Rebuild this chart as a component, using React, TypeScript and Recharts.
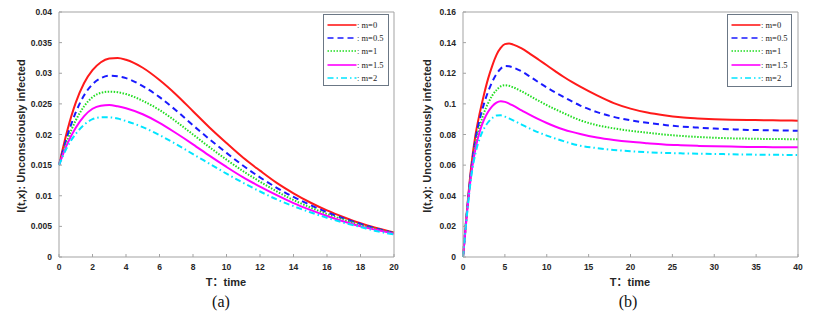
import React from "react";
import { LineChart, Line, XAxis, YAxis, Legend } from "recharts";

// time grids
const tLeft = [0, 0.5, 1, 1.5, 2, 2.5, 3, 3.5, 4, 5, 6, 7, 8, 9, 10, 11, 12, 13, 14, 15, 16, 17, 18, 19, 20];
const tRight = [
  0, 0.5, 1, 1.5, 2, 2.5, 3, 3.5, 4, 4.5, 5, 5.5, 6, 7, 8, 9, 10, 11, 12, 13, 14, 16, 18, 20, 22, 24, 26, 28, 30,
  32, 34, 36, 38, 40,
];

// panel (a)
const aM0 = [0.015, 0.0207, 0.0252, 0.0284, 0.0305, 0.0318, 0.0324, 0.0325, 0.0322, 0.0309, 0.0289, 0.0265, 0.0238, 0.0211, 0.0186, 0.0162, 0.0141, 0.0121, 0.0104, 0.0089, 0.0076, 0.0065, 0.0055, 0.0047, 0.004];
const aM05 = [0.015, 0.0198, 0.0236, 0.0264, 0.0282, 0.0292, 0.0296, 0.0295, 0.0292, 0.0279, 0.0261, 0.0239, 0.0215, 0.0192, 0.017, 0.0149, 0.013, 0.0113, 0.0098, 0.0085, 0.0073, 0.0063, 0.0054, 0.0046, 0.0039];
const aM1 = [0.015, 0.0191, 0.0223, 0.0246, 0.0261, 0.0268, 0.027, 0.0269, 0.0266, 0.0255, 0.024, 0.0221, 0.02, 0.0179, 0.0159, 0.014, 0.0123, 0.0107, 0.0093, 0.0081, 0.007, 0.0061, 0.0052, 0.0045, 0.0039];
const aM15 = [0.015, 0.0185, 0.0211, 0.023, 0.0242, 0.0247, 0.0248, 0.0246, 0.0243, 0.0233, 0.0219, 0.0202, 0.0184, 0.0165, 0.0147, 0.013, 0.0115, 0.0101, 0.0088, 0.0077, 0.0067, 0.0058, 0.005, 0.0044, 0.0038];
const aM2 = [0.015, 0.018, 0.0201, 0.0216, 0.0225, 0.0228, 0.0228, 0.0226, 0.0222, 0.0212, 0.0199, 0.0184, 0.0168, 0.0152, 0.0136, 0.0121, 0.0107, 0.0094, 0.0083, 0.0073, 0.0064, 0.0056, 0.0049, 0.0042, 0.0037];

// panel (b)
const bM0 = [0, 0.032, 0.06, 0.08, 0.094, 0.106, 0.1165, 0.125, 0.132, 0.1365, 0.139, 0.1394, 0.1387, 0.1362, 0.1327, 0.129, 0.1252, 0.1214, 0.1177, 0.1143, 0.1112, 0.1055, 0.1005, 0.0969, 0.0943, 0.0925, 0.0912, 0.0905, 0.09, 0.0897, 0.0895, 0.0893, 0.0892, 0.089];
const bM05 = [0, 0.031, 0.058, 0.077, 0.09, 0.1, 0.108, 0.1145, 0.1195, 0.123, 0.1247, 0.1245, 0.1237, 0.1212, 0.1178, 0.1142, 0.1107, 0.1075, 0.1045, 0.1016, 0.0989, 0.0946, 0.0915, 0.0893, 0.0876, 0.0863, 0.0852, 0.0845, 0.0839, 0.0834, 0.083, 0.0828, 0.0826, 0.0825];
const bM1 = [0, 0.031, 0.056, 0.074, 0.0855, 0.094, 0.1005, 0.1055, 0.109, 0.1115, 0.1122, 0.1118, 0.1108, 0.1082, 0.1052, 0.1021, 0.0992, 0.0965, 0.094, 0.0915, 0.0893, 0.0861, 0.084, 0.0824, 0.0812, 0.08, 0.0791, 0.0784, 0.0779, 0.0775, 0.0773, 0.0771, 0.077, 0.0769];
const bM15 = [0, 0.03, 0.055, 0.071, 0.082, 0.0895, 0.0948, 0.0985, 0.1008, 0.1017, 0.1013, 0.1002, 0.0988, 0.0958, 0.0928, 0.09, 0.0875, 0.0852, 0.0833, 0.0817, 0.0803, 0.078, 0.0764, 0.0752, 0.0743, 0.0735, 0.073, 0.0726, 0.0723, 0.0721, 0.0719, 0.0718, 0.0717, 0.0716];
const bM2 = [0, 0.029, 0.053, 0.068, 0.0775, 0.0838, 0.088, 0.0908, 0.0924, 0.0925, 0.0917, 0.0905, 0.0892, 0.0865, 0.0838, 0.0814, 0.0793, 0.0774, 0.0757, 0.074, 0.0727, 0.0711, 0.0699, 0.0691, 0.0684, 0.068, 0.0677, 0.0675, 0.0673, 0.0671, 0.0669, 0.0668, 0.0667, 0.0666];

const xTicksA = [0, 2, 4, 6, 8, 10, 12, 14, 16, 18, 20];
const yTicksA = [0, 0.005, 0.01, 0.015, 0.02, 0.025, 0.03, 0.035, 0.04];
const xTicksB = [0, 5, 10, 15, 20, 25, 30, 35, 40];
const yTicksB = [0, 0.02, 0.04, 0.06, 0.08, 0.1, 0.12, 0.14, 0.16];

const seriesNames = ["m=0", "m=0.5", "m=1", "m=1.5", "m=2"];

const series = [
  { key: "m0", color: "#ff1a1a", dash: undefined },
  { key: "m05", color: "#1a1aff", dash: "6 4" },
  { key: "m1", color: "#22dd22", dash: "1.5 1.5" },
  { key: "m15", color: "#ff00ff", dash: undefined },
  { key: "m2", color: "#00e5ff", dash: "6 3 1.5 3" },
];

const buildRows = (t: number[], cols: number[][]) =>
  t.map((x, i) => ({
    t: x,
    m0: cols[0][i],
    m05: cols[1][i],
    m1: cols[2][i],
    m15: cols[3][i],
    m2: cols[4][i],
  }));

const dataA = buildRows(tLeft, [aM0, aM05, aM1, aM15, aM2]);
const dataB = buildRows(tRight, [bM0, bM05, bM1, bM15, bM2]);

const sans = '"Liberation Sans", Arial, "Noto Sans CJK SC", sans-serif';
const serif = '"Liberation Serif", "Times New Roman", serif';
const axisGrey = "#a3a3a3";
const tickStyle = { fill: "#262626", fontSize: 8.5, fontWeight: 700, fontFamily: sans };

function LegendBox({ width, height }: { width: number; height: number }) {
  return (
    <div
      style={{
        width,
        height,
        boxSizing: "border-box",
        border: "1px solid #6b7785",
        background: "#fff",
        position: "relative",
      }}
    >
      {series.map((s, i) => (
        <div
          key={s.key}
          style={{ position: "absolute", left: 3, top: 3 + i * 13.2, height: 14, display: "flex", alignItems: "center" }}
        >
          <svg width={30} height={14}>
            <line x1={0.5} y1={7} x2={29.5} y2={7} stroke={s.color} strokeWidth={1.6} strokeDasharray={s.dash} />
          </svg>
          <span style={{ fontFamily: serif, fontSize: 8.5, color: "#222", whiteSpace: "nowrap" }}>
            : {seriesNames[i]}
          </span>
        </div>
      ))}
    </div>
  );
}

type PanelProps = {
  data: any[];
  width: number;
  yWidth: number;
  rightMargin: number;
  xDomain: [number, number];
  yDomain: [number, number];
  xTicks: number[];
  yTicks: number[];
  legendLeft: number;
  legendWidth: number;
  legendHeight: number;
};

function Panel(p: PanelProps) {
  return (
    <LineChart
      width={p.width}
      height={280}
      data={p.data}
      margin={{ top: 11, right: p.rightMargin, bottom: 0, left: 0 }}
    >
      <XAxis
        dataKey="t"
        type="number"
        domain={p.xDomain}
        ticks={p.xTicks}
        interval={0}
        height={23}
        stroke={axisGrey}
        tickSize={-3}
        tickMargin={10}
        tick={tickStyle}
      />
      <XAxis
        xAxisId="top"
        dataKey="t"
        type="number"
        orientation="top"
        domain={p.xDomain}
        ticks={p.xTicks}
        height={1}
        stroke={axisGrey}
        tickSize={-3}
        tick={false}
      />
      <YAxis
        type="number"
        domain={p.yDomain}
        ticks={p.yTicks}
        interval={0}
        width={p.yWidth}
        stroke={axisGrey}
        tickSize={-3}
        tickMargin={10}
        tick={tickStyle}
      />
      <YAxis
        yAxisId="right"
        type="number"
        orientation="right"
        domain={p.yDomain}
        ticks={p.yTicks}
        width={1}
        stroke={axisGrey}
        tickSize={-3}
        tick={false}
      />
      {series.map((s) => (
        <Line
          key={s.key}
          type="monotone"
          dataKey={s.key}
          stroke={s.color}
          strokeWidth={2}
          strokeDasharray={s.dash}
          dot={false}
          activeDot={false}
          isAnimationActive={false}
        />
      ))}
      <Legend
        layout="horizontal"
        verticalAlign="middle"
        align="center"
        wrapperStyle={{ position: "absolute", left: p.legendLeft, top: 14, width: p.legendWidth, height: p.legendHeight }}
        content={() => <LegendBox width={p.legendWidth} height={p.legendHeight} />}
      />
    </LineChart>
  );
}

const labelStyle: React.CSSProperties = {
  position: "absolute",
  fontFamily: sans,
  fontWeight: 700,
  fontSize: 11,
  color: "#262626",
  whiteSpace: "nowrap",
};

export default function App() {
  return (
    <div style={{ position: "absolute", left: 0, top: 0, width: 813, height: 320, background: "#fff" }}>
      <div style={{ position: "absolute", left: 0, top: 0 }}>
        <Panel
          data={dataA}
          width={400}
          yWidth={59}
          rightMargin={5}
          xDomain={[0, 20]}
          yDomain={[0, 0.04]}
          xTicks={xTicksA}
          yTicks={yTicksA}
          legendLeft={323}
          legendWidth={66}
          legendHeight={72}
        />
      </div>
      <div style={{ position: "absolute", left: 405, top: 0 }}>
        <Panel
          data={dataB}
          width={408}
          yWidth={58}
          rightMargin={14}
          xDomain={[0, 40]}
          yDomain={[0, 0.16]}
          xTicks={xTicksB}
          yTicks={yTicksB}
          legendLeft={322}
          legendWidth={65}
          legendHeight={73}
        />
      </div>

      <div style={{ ...labelStyle, left: 21, top: 136, transform: "translate(-50%, -50%) rotate(-90deg)" }}>
        I(t,x): Unconsciously infected
      </div>
      <div style={{ ...labelStyle, left: 427, top: 136, transform: "translate(-50%, -50%) rotate(-90deg)" }}>
        I(t,x): Unconsciously infected
      </div>
      <div style={{ ...labelStyle, left: 226, top: 281, transform: "translate(-50%, -50%)" }}>T：time</div>
      <div style={{ ...labelStyle, left: 630, top: 281, transform: "translate(-50%, -50%)" }}>T：time</div>
      <div style={{ position: "absolute", left: 221, top: 302, transform: "translate(-50%, -50%)", fontFamily: serif, fontSize: 16, color: "#111" }}>
        (a)
      </div>
      <div style={{ position: "absolute", left: 628, top: 302, transform: "translate(-50%, -50%)", fontFamily: serif, fontSize: 16, color: "#111" }}>
        (b)
      </div>
    </div>
  );
}
